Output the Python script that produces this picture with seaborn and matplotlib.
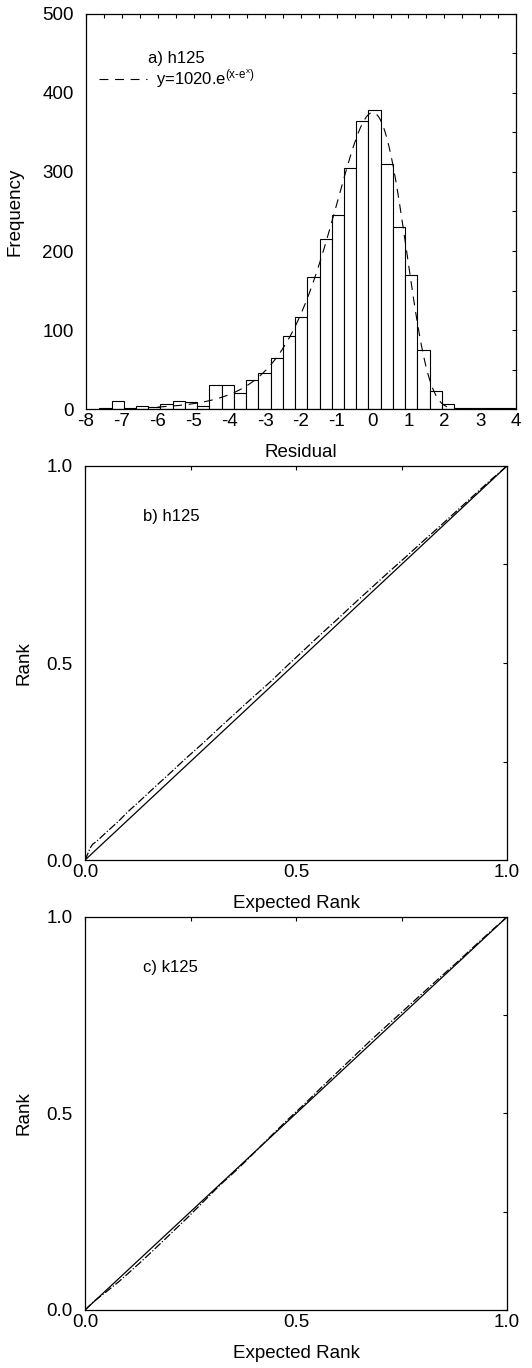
import numpy as np
import matplotlib
matplotlib.use("Agg")
import matplotlib.pyplot as plt
from matplotlib.ticker import MultipleLocator, FixedLocator
import seaborn as sns

# ---- data -------------------------------------------------------------
# histogram of residuals (h125): counts per bin, bins of equal width
bin_start = -7.63
bin_width = 0.3415
residual_counts = [1, 10, 1, 4, 3, 6, 10, 9, 4, 30, 30, 20, 37, 45, 65, 93,
                   116, 167, 215, 245, 305, 364, 379, 310, 231, 169, 75, 23,
                   6, 1, 1, 1, 1, 1]

# fitted Gumbel-type curve y = A * exp(x - exp(x))
fit_amplitude = 1020.0
fit_range = [-6.0, 2.25]

# rank plots: expected rank vs observed rank
expected_b = [0.0, 0.005, 0.012, 0.018, 0.03, 0.05, 0.08, 0.10, 0.13, 0.16,
              0.20, 0.24, 0.28, 0.32, 0.36, 0.40, 0.44, 0.48, 0.52, 0.56,
              0.60, 0.64, 0.68, 0.72, 0.76, 0.80, 0.84, 0.88, 0.92, 0.96, 1.0]
rank_b = [0.0, 0.012, 0.030, 0.040, 0.050, 0.070, 0.099, 0.121, 0.150, 0.180,
          0.219, 0.259, 0.297, 0.337, 0.376, 0.415, 0.453, 0.494, 0.534, 0.574,
          0.613, 0.653, 0.692, 0.731, 0.769, 0.808, 0.846, 0.885, 0.924, 0.963, 1.0]

expected_c = [0.0, 0.02, 0.05, 0.08, 0.10, 0.13, 0.16, 0.20, 0.24, 0.28, 0.32,
              0.36, 0.40, 0.44, 0.48, 0.52, 0.56, 0.60, 0.64, 0.68, 0.72,
              0.76, 0.80, 0.84, 0.88, 0.92, 0.96, 1.0]
rank_c = [0.0, 0.021, 0.046, 0.072, 0.091, 0.120, 0.150, 0.191, 0.232, 0.275,
          0.318, 0.357, 0.399, 0.442, 0.484, 0.524, 0.566, 0.607, 0.648, 0.689,
          0.728, 0.767, 0.806, 0.845, 0.883, 0.923, 0.962, 1.0]

identity = [0.0, 1.0]

hist_xticks = [-8, -7, -6, -5, -4, -3, -2, -1, 0, 1, 2, 3, 4]
hist_yticks = [0, 100, 200, 300, 400, 500]
rank_ticks = [0.0, 0.5, 1.0]
rank_ticklabels = ["0.0", "0.5", "1.0"]

# ---- style ------------------------------------------------------------
sns.set_theme(style="white")
plt.rcParams["font.family"] = ["Liberation Sans", "DejaVu Sans"]
plt.rcParams["mathtext.fontset"] = "custom"
plt.rcParams["mathtext.rm"] = "Liberation Sans"
plt.rcParams["mathtext.it"] = "Liberation Sans"
plt.rcParams["axes.edgecolor"] = "black"
plt.rcParams["axes.linewidth"] = 0.9
plt.rcParams["text.color"] = "black"
plt.rcParams["axes.labelcolor"] = "black"
plt.rcParams["xtick.color"] = "black"
plt.rcParams["ytick.color"] = "black"

TICK_FS = 13.5
LABEL_FS = 13.5
NOTE_FS = 12

fig = plt.figure(figsize=(5.32, 13.68), dpi=100)
ax_a = fig.add_axes([0.1617, 0.7010, 0.8082, 0.2888])
ax_b = fig.add_axes([0.1598, 0.3713, 0.7932, 0.2881])
ax_c = fig.add_axes([0.1598, 0.0424, 0.7932, 0.2873])


def style_ticks(ax):
    ax.tick_params(which="both", direction="in", top=True, right=True,
                   length=2.6, width=0.8, labelsize=TICK_FS)
    ax.tick_params(axis="x", which="both", pad=3)
    ax.tick_params(axis="y", which="both", pad=9)
    for s in ax.spines.values():
        s.set_visible(True)
        s.set_color("black")


# ---- panel a: histogram + fit ----------------------------------------
n_bins = len(residual_counts)
bin_lo = bin_start
bin_hi = bin_start + bin_width * n_bins
centers = bin_start + bin_width * (np.arange(n_bins) + 0.5)
residuals = np.repeat(centers, residual_counts)
sns.histplot(x=residuals, bins=n_bins, binrange=(bin_lo, bin_hi), ax=ax_a,
             color="white", edgecolor="black", linewidth=0.8, alpha=1.0)

xfit = np.linspace(fit_range[0], fit_range[1], 300)
yfit = fit_amplitude * np.exp(xfit - np.exp(xfit))
sns.lineplot(x=xfit, y=yfit, ax=ax_a, color="black", linewidth=0.8,
             label=r"y=1020.e$^{\mathrm{(x\text{-}e}^{\mathrm{x}}\mathrm{)}}$")
ax_a.lines[-1].set_dashes((8, 6))

ax_a.set_xlim(-8, 4)
ax_a.set_ylim(0, 500)
ax_a.xaxis.set_major_locator(FixedLocator(hist_xticks))
ax_a.xaxis.set_minor_locator(MultipleLocator(0.5))
ax_a.yaxis.set_major_locator(FixedLocator(hist_yticks))
ax_a.yaxis.set_minor_locator(MultipleLocator(50))
ax_a.set_xticklabels([str(t) for t in hist_xticks])
ax_a.set_xlabel("Residual", fontsize=LABEL_FS, labelpad=10)
ax_a.set_ylabel("Frequency", fontsize=LABEL_FS, labelpad=13)
style_ticks(ax_a)

ax_a.text(0.145, 0.876, "a) h125", transform=ax_a.transAxes,
          fontsize=NOTE_FS, va="baseline", ha="left")
leg = ax_a.legend(loc="center left", bbox_to_anchor=(0.03, 0.835),
                  frameon=False, fontsize=NOTE_FS, handlelength=2.9,
                  handletextpad=0.55, borderpad=0, borderaxespad=0)

# ---- panels b, c: rank plots -----------------------------------------
for ax, xs, ys, note in [(ax_b, expected_b, rank_b, "b) h125"),
                         (ax_c, expected_c, rank_c, "c) k125")]:
    sns.lineplot(x=identity, y=identity, ax=ax, color="black", linewidth=0.9)
    sns.lineplot(x=xs, y=ys, ax=ax, color="black", linewidth=0.9,
                 sort=False, estimator=None)
    ax.lines[-1].set_linestyle("-.")
    ax.set_xlim(0, 1)
    ax.set_ylim(0, 1)
    ax.xaxis.set_major_locator(FixedLocator(rank_ticks))
    ax.yaxis.set_major_locator(FixedLocator(rank_ticks))
    ax.xaxis.set_minor_locator(MultipleLocator(0.25))
    ax.yaxis.set_minor_locator(MultipleLocator(0.25))
    ax.set_xticklabels(rank_ticklabels)
    ax.set_yticklabels(rank_ticklabels)
    ax.set_xlabel("Expected Rank", fontsize=LABEL_FS, labelpad=10)
    ax.set_ylabel("Rank", fontsize=LABEL_FS, labelpad=10)
    style_ticks(ax)
    ax.text(0.138, 0.86, note, transform=ax.transAxes, fontsize=NOTE_FS,
            va="baseline", ha="left")

fig.savefig("out.png", dpi=100, facecolor="white")
